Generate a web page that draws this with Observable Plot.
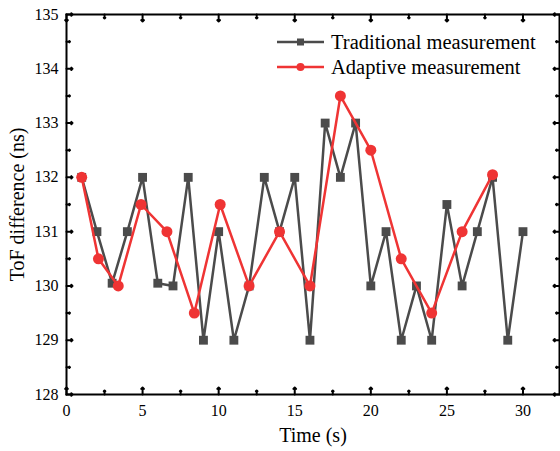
<!DOCTYPE html>
<html><head><meta charset="utf-8">
<script src="https://cdn.jsdelivr.net/npm/d3@7"></script>
<script src="https://cdn.jsdelivr.net/npm/@observablehq/plot@0.6"></script>
<style>
body{margin:0;background:#fff;font-family:"Liberation Serif","Times New Roman",serif;}
#wrap{position:relative;width:560px;height:451px;}
#legend{position:absolute;left:0;top:0;pointer-events:none;}
</style></head><body><div id="wrap"></div>
<script>
// Data
const tradTime = [1,2,3,4,5,6,7,8,9,10,11,12,13,14,15,16,17,18,19,20,21,22,23,24,25,26,27,28,29,30];
const tradValue = [132,131,130.05,131,132,130.05,130,132,129,131,129,130,132,131,132,129,133,132,133,130,131,129,130,129,131.5,130,131,132,129,131];
const adaptTime = [1,2.1,3.4,4.9,6.6,8.4,10.1,12,14,16,18,20,22,24,26,28];
const adaptValue = [132,130.5,130,131.5,131,129.5,131.5,130,131,130,133.5,132.5,130.5,129.5,131,132.05];
const seriesNames = ["Traditional measurement","Adaptive measurement"];
const xMajor = [0,5,10,15,20,25,30];
const xMinor = [2.5,7.5,12.5,17.5,22.5,27.5];
const yMajor = [128,129,130,131,132,133,134,135];
const yMinor = [128.5,129.5,130.5,131.5,132.5,133.5,134.5];
const xDomain = [0,32.4];
const yDomain = [128,135];

const gray = "#4b4b4b", red = "#ef3434";
const trad = tradTime.map((t,i)=>({t, v: tradValue[i]}));
const adapt = adaptTime.map((t,i)=>({t, v: adaptValue[i]}));

const font = "Liberation Serif";
const tickMarks = (vals, len, k) => {
  const m = [];
  if (k === "x") {
    m.push(Plot.vector(vals, {x: d=>d, y: yDomain[0], length: len, rotate: 0, anchor: "start", stroke: "#000", strokeWidth: 2}));
    m.push(Plot.vector(vals, {x: d=>d, y: yDomain[1], length: len, rotate: 180, anchor: "start", stroke: "#000", strokeWidth: 2}));
  } else {
    m.push(Plot.vector(vals, {y: d=>d, x: xDomain[0], length: len, rotate: 90, anchor: "start", stroke: "#000", strokeWidth: 2}));
    m.push(Plot.vector(vals, {y: d=>d, x: xDomain[1], length: len, rotate: -90, anchor: "start", stroke: "#000", strokeWidth: 2}));
  }
  return m;
};

const chart = Plot.plot({
  width: 560, height: 451,
  marginLeft: 66, marginRight: 1, marginTop: 14, marginBottom: 57,
  style: {fontFamily: font, background: "#fff", overflow: "visible"},
  x: {domain: xDomain},
  y: {domain: yDomain},
  marks: [
    Plot.line(trad, {x: "t", y: "v", stroke: gray, strokeWidth: 2.5}),
    Plot.dot(trad, {x: "t", y: "v", symbol: "square", r: 5, fill: gray}),
    Plot.line(adapt, {x: "t", y: "v", stroke: red, strokeWidth: 2.5}),
    Plot.dot(adapt, {x: "t", y: "v", symbol: "circle", r: 5.5, fill: red}),
    ...tickMarks(xMajor, 7, "x"),
    ...tickMarks(xMinor, 4, "x"),
    ...tickMarks(yMajor, 6, "y"),
    ...tickMarks(yMinor, 3.5, "y"),
    Plot.axisX({ticks: xMajor, tickSize: 0, tickPadding: 10, fontSize: 16, label: null, fill: "#000", tickFormat: "d"}),
    Plot.axisY({ticks: yMajor, tickSize: 0, tickPadding: 8, fontSize: 16, label: null, fill: "#000", tickFormat: "d"}),
    Plot.frame({stroke: "#000", strokeWidth: 2}),
    Plot.text(["Time (s)"], {frameAnchor: "bottom", dy: 47, fontSize: 20, fill: "#000"}),
    Plot.text(["ToF difference (ns)"], {frameAnchor: "left", textAnchor: "middle", rotate: -90, dx: -49, fontSize: 20, fill: "#000"})
  ]
});
const wrap = document.getElementById("wrap");
wrap.appendChild(chart);

// Legend overlay
const ns = "http://www.w3.org/2000/svg";
const lg = document.createElementNS(ns, "svg");
lg.setAttribute("id","legend");
lg.setAttribute("width","560"); lg.setAttribute("height","451");
const items = [{name: seriesNames[0], color: gray, sym: "square", y: 42},
               {name: seriesNames[1], color: red, sym: "circle", y: 67}];
for (const it of items) {
  const l = document.createElementNS(ns,"line");
  l.setAttribute("x1",277); l.setAttribute("x2",324); l.setAttribute("y1",it.y); l.setAttribute("y2",it.y);
  l.setAttribute("stroke",it.color); l.setAttribute("stroke-width",2.5);
  lg.appendChild(l);
  if (it.sym === "square") {
    const r = document.createElementNS(ns,"rect");
    r.setAttribute("x",300.5-3.5); r.setAttribute("y",it.y-3.5); r.setAttribute("width",7); r.setAttribute("height",7);
    r.setAttribute("fill",it.color); lg.appendChild(r);
  } else {
    const c = document.createElementNS(ns,"circle");
    c.setAttribute("cx",300.5); c.setAttribute("cy",it.y); c.setAttribute("r",4);
    c.setAttribute("fill",it.color); lg.appendChild(c);
  }
  const t = document.createElementNS(ns,"text");
  t.setAttribute("x",331); t.setAttribute("y",it.y); t.setAttribute("dy","0.32em");
  t.setAttribute("font-family",font); t.setAttribute("font-size",20.5); t.setAttribute("fill","#000");
  t.textContent = it.name;
  lg.appendChild(t);
}
wrap.appendChild(lg);
</script></body></html>
